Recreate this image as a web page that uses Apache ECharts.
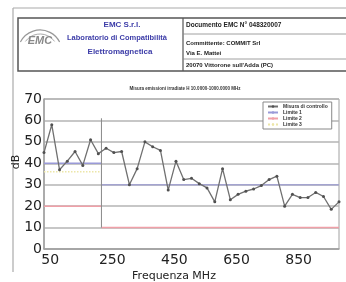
<!DOCTYPE html>
<html>
<head>
<meta charset="utf-8">
<script src="https://cdn.jsdelivr.net/npm/echarts@6/dist/echarts.min.js"></script>
<style>
    html, body {margin: 0; padding: 0; background: #fff;}
    #chartWrap {width: 346px; height: 282px;}
</style>
</head>
<body>
<div id="chartWrap"></div>
<script>
// frequencies (MHz) and measured values (dB)
const freqs = [30, 55, 80, 105, 130, 155, 180, 205, 230, 255, 280, 305, 330, 355, 380, 405, 430, 455, 480, 505,
    530, 555, 580, 605, 630, 655, 680, 705, 730, 755, 780, 805, 830, 855, 880, 905, 930, 955, 980];
const misura = [45, 58, 37, 41, 45.5, 39, 51, 44.5, 47, 45, 45.5, 30, 37.5, 50, 47.7, 46, 27.5, 41, 32.4, 33,
    30.5, 28.5, 22, 37.5, 23, 25.5, 27, 28, 29.6, 32.4, 34, 20, 25.5, 24, 24, 26.4, 24.5, 18.5, 22];

// limit lines, step near 215 MHz
const limite1Low = [[30, 40], [215, 40]];
const limite1High = [[215, 30], [980, 30]];
const limite2Low = [[30, 20], [215, 20]];
const limite2High = [[215, 10], [980, 10]];
const limite3Low = [[30, 36], [215, 36]];
const stepLine = [[215, 61], [215, 10]];

const xLabels = [50, 250, 450, 650, 850];
const legendNames = ['Misura di controllo', 'Limite 1', 'Limite 2', 'Limite 3'];

let myChart = echarts.init(document.getElementById('chartWrap'));

const font = 'DejaVu Sans';
const headFont = 'Liberation Sans';

let points = freqs.map((f, i) => [f, misura[i]]);

function limitSeries(name, data, color, type) {
    return {
        name: name,
        type: 'line',
        data: data,
        symbol: 'none',
        silent: true,
        lineStyle: {color: color, width: 1.5, type: type || 'solid'},
        itemStyle: {color: color},
        z: 1
    };
}

const option = {
    animation: false,
    backgroundColor: '#fff',
    grid: {left: 44, right: 7, top: 99, bottom: 33, show: true, borderColor: '#a0a0a0', borderWidth: 1},
    legend: {
        data: legendNames,
        orient: 'vertical',
        left: 263,
        top: 102,
        itemWidth: 10,
        itemHeight: 3,
        itemGap: 1,
        padding: [2, 4, 2, 4],
        borderColor: '#888',
        borderWidth: 1,
        backgroundColor: '#fff',
        textStyle: {fontSize: 5, fontFamily: headFont, color: '#333', fontWeight: 'bold'}
    },
    xAxis: {
        type: 'value',
        min: 30,
        max: 980,
        axisLine: {lineStyle: {color: '#a0a0a0', width: 1.5}},
        axisTick: {show: false},
        splitLine: {show: false},
        axisLabel: {
            customValues: xLabels,
            fontSize: 14,
            fontFamily: font,
            color: '#222',
            margin: 4
        }
    },
    yAxis: {
        type: 'value',
        min: 0,
        max: 70,
        interval: 10,
        axisLine: {show: true, lineStyle: {color: '#a0a0a0', width: 1.5}},
        axisTick: {show: false},
        splitLine: {lineStyle: {color: '#b4b4b4', width: 1.5}},
        axisLabel: {fontSize: 14, fontFamily: font, color: '#222', margin: 2}
    },
    graphic: [
        // page frame
        {type: 'line', shape: {x1: 13, y1: 8, x2: 346, y2: 8}, style: {stroke: '#aaa', lineWidth: 1.2}},
        {type: 'line', shape: {x1: 13, y1: 8, x2: 13, y2: 272}, style: {stroke: '#aaa', lineWidth: 1.2}},
        // header table
        {type: 'rect', shape: {x: 18, y: 18, width: 340, height: 53}, style: {fill: 'none', stroke: '#555', lineWidth: 1.5}},
        {type: 'line', shape: {x1: 183, y1: 18, x2: 183, y2: 71}, style: {stroke: '#555', lineWidth: 1.2}},
        {type: 'line', shape: {x1: 183, y1: 34, x2: 346, y2: 34}, style: {stroke: '#888', lineWidth: 0.8}},
        {type: 'line', shape: {x1: 183, y1: 59, x2: 346, y2: 59}, style: {stroke: '#888', lineWidth: 0.8}},
        // logo
        {type: 'arc', shape: {cx: 40, cy: 52, r: 22, startAngle: Math.PI * 1.15, endAngle: Math.PI * 1.85}, style: {stroke: '#999', lineWidth: 1.2, fill: 'none'}},
        {type: 'arc', shape: {cx: 40, cy: 52, r: 18, startAngle: Math.PI * 1.2, endAngle: Math.PI * 1.8}, style: {stroke: '#aaa', lineWidth: 1, fill: 'none'}},
        {type: 'text', x: 40, y: 41, style: {text: 'EMC', font: 'italic bold 11px ' + headFont, fill: '#888', textAlign: 'center', textVerticalAlign: 'middle'}},
        {type: 'text', x: 122, y: 25, style: {text: 'EMC S.r.l.', font: 'bold 8px ' + headFont, fill: '#3c3ca8', textAlign: 'center', textVerticalAlign: 'middle'}},
        {type: 'text', x: 117, y: 38, style: {text: 'Laboratorio di Compatibilità', font: 'bold 7.5px ' + headFont, fill: '#3c3ca8', textAlign: 'center', textVerticalAlign: 'middle'}},
        {type: 'text', x: 120, y: 52, style: {text: 'Elettromagnetica', font: 'bold 8px ' + headFont, fill: '#3c3ca8', textAlign: 'center', textVerticalAlign: 'middle'}},
        {type: 'text', x: 186, y: 25, style: {text: 'Documento EMC N° 048320007', font: 'bold 6.5px ' + headFont, fill: '#222', textVerticalAlign: 'middle'}},
        {type: 'text', x: 186, y: 43, style: {text: 'Committente: COMMIT Srl', font: 'bold 6px ' + headFont, fill: '#222', textVerticalAlign: 'middle'}},
        {type: 'text', x: 186, y: 53, style: {text: 'Via E. Mattei', font: 'bold 6px ' + headFont, fill: '#222', textVerticalAlign: 'middle'}},
        {type: 'text', x: 186, y: 65, style: {text: "20070 Vittorone sull'Adda (PC)", font: 'bold 6px ' + headFont, fill: '#222', textVerticalAlign: 'middle'}},
        // chart title
        {type: 'text', x: 185, y: 89, style: {text: 'Misura emissioni irradiate H 10.0000-1000.0000 MHz', font: 'bold 4.5px ' + headFont, fill: '#333', textAlign: 'center', textVerticalAlign: 'middle'}},
        // axis names
        {type: 'text', x: 174, y: 276, style: {text: 'Frequenza MHz', font: '11px ' + font, fill: '#222', textAlign: 'center', textVerticalAlign: 'middle'}},
        {type: 'text', x: 16, y: 162, rotation: Math.PI / 2, style: {text: 'dB', font: '11px ' + font, fill: '#222', textAlign: 'center', textVerticalAlign: 'middle'}}
    ],
    series: [
        limitSeries('Limite 1', limite1Low, '#9a9ad8'),
        limitSeries('Limite 1', limite1High, '#a4a4d0'),
        limitSeries('Limite 2', limite2Low, '#f0a0a8'),
        limitSeries('Limite 2', limite2High, '#f0a0a8'),
        limitSeries('Limite 3', limite3Low, '#ece6a8', 'dotted'),
        {
            name: 'step',
            type: 'line',
            data: stepLine,
            symbol: 'none',
            silent: true,
            lineStyle: {color: '#888', width: 1},
            z: 1
        },
        {
            name: 'Misura di controllo',
            type: 'line',
            data: points,
            symbol: 'circle',
            symbolSize: 3,
            lineStyle: {color: '#707070', width: 1.3},
            itemStyle: {color: '#505050'},
            z: 3
        }
    ]
};

myChart.setOption(option);
</script>
</body>
</html>
